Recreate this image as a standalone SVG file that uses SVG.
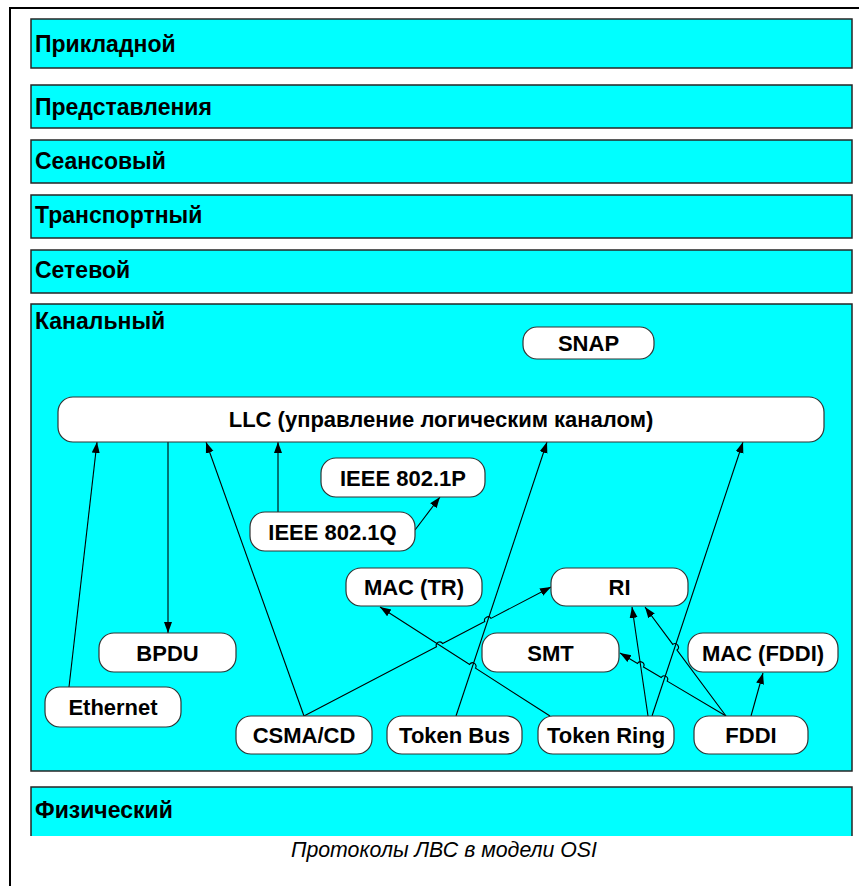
<svg xmlns="http://www.w3.org/2000/svg" width="859" height="886" viewBox="0 0 859 886">
<style>
.layer{fill:#00FFFF;stroke:#262626;stroke-width:1.5}
.lt{font-family:"Liberation Sans",Arial,sans-serif;font-weight:bold;font-size:23px;fill:#000}
.node rect{fill:#fff;stroke:#333;stroke-width:1.2}
.nt{font-family:"Liberation Sans",Arial,sans-serif;font-weight:bold;font-size:22px;fill:#000;text-anchor:middle}
.c{fill:none;stroke:#000;stroke-width:1.1}
.a{marker-end:url(#arr)}
.cap{font-family:"Liberation Sans",Arial,sans-serif;font-style:italic;font-size:21.3px;fill:#000;text-anchor:middle}
</style>
<defs>
<marker id="arr" markerUnits="userSpaceOnUse" markerWidth="12" markerHeight="10" viewBox="0 0 12 10" refX="11" refY="5" orient="auto">
<path d="M0,1 L11,5 L0,9 z" fill="#000"/>
</marker>
</defs>
<rect x="0" y="0" width="859" height="886" fill="#fff"/>
<path d="M10,886 L10,8 L859,8" fill="none" stroke="#000" stroke-width="2"/>

<g id="layer-app"><rect class="layer" x="31" y="19" width="821" height="49"/><text class="lt" x="35" y="51.5">Прикладной</text></g>
<g id="layer-pres"><rect class="layer" x="31" y="85" width="821" height="43"/><text class="lt" x="35" y="115">Представления</text></g>
<g id="layer-sess"><rect class="layer" x="31" y="140" width="821" height="43"/><text class="lt" x="35" y="169">Сеансовый</text></g>
<g id="layer-trans"><rect class="layer" x="31" y="195" width="821" height="43"/><text class="lt" x="35" y="223">Транспортный</text></g>
<g id="layer-net"><rect class="layer" x="31" y="250" width="821" height="43"/><text class="lt" x="35" y="278">Сетевой</text></g>
<g id="layer-link"><rect class="layer" x="31" y="304" width="821" height="467"/><text class="lt" x="35" y="329">Канальный</text></g>
<g id="layer-phys"><rect x="31" y="787" width="821" height="49" fill="#00FFFF"/><path d="M31,836 L31,787 L852,787 L852,836" fill="none" stroke="#262626" stroke-width="1.5"/><text class="lt" x="35" y="818">Физический</text></g>

<g id="connectors">
<path class="c a" d="M69,687 L97,442"/>
<path class="c a" d="M168,442 L168,633"/>
<path class="c a" d="M304,716 L206,442"/>
<path class="c a" d="M278,512 L278,442"/>
<path class="c a" d="M415,530 L440,497"/>
<path class="c a" d="M456,716 L547,442"/>
<path class="c a" d="M652,716 L743,442"/>
<path class="c a" d="M304,716 L436.5,646.8 A3.5,3.5 0 0 1 442.7,643.6 L484.8,621.6 A3.5,3.5 0 0 1 491.0,618.4 L551,587"/>
<path class="c a" d="M550,716 L475.5,668.2 A3.5,3.5 0 0 0 469.6,664.4 L380,607"/>
<path class="c a" d="M648,716 L632,607"/>
<path class="c a" d="M726,716 L677.0,650.0 A3.5,3.5 0 0 0 672.8,644.4 L645,607"/>
<path class="c a" d="M726,716 L667.2,681.1 A3.5,3.5 0 0 0 661.2,677.5 L643.5,667.0 A3.5,3.5 0 0 0 637.5,663.4 L620,653"/>
<path class="c a" d="M751,716 L763,673"/>
</g>

<g id="snap" class="node"><rect x="523" y="327" width="131" height="32" rx="14"/><text class="nt" x="588.5" y="351">SNAP</text></g>
<g id="llc" class="node"><rect x="58" y="397" width="766" height="45" rx="15"/><text class="nt" x="441" y="427">LLC (управление логическим каналом)</text></g>
<g id="ieee8021p" class="node"><rect x="321" y="458" width="164" height="39" rx="15"/><text class="nt" x="403" y="485.5">IEEE 802.1P</text></g>
<g id="ieee8021q" class="node"><rect x="250" y="512" width="165" height="39" rx="15"/><text class="nt" x="332.5" y="539.5">IEEE 802.1Q</text></g>
<g id="mactr" class="node"><rect x="346" y="568" width="136" height="38" rx="15"/><text class="nt" x="414" y="595">MAC (TR)</text></g>
<g id="ri" class="node"><rect x="551" y="568" width="137" height="38" rx="15"/><text class="nt" x="619.5" y="595">RI</text></g>
<g id="smt" class="node"><rect x="482" y="633" width="137" height="39" rx="15"/><text class="nt" x="550.5" y="660.5">SMT</text></g>
<g id="macfddi" class="node"><rect x="688" y="633" width="150" height="39" rx="15"/><text class="nt" x="763" y="660.5">MAC (FDDI)</text></g>
<g id="bpdu" class="node"><rect x="99" y="633" width="137" height="39" rx="15"/><text class="nt" x="167.5" y="660.5">BPDU</text></g>
<g id="ethernet" class="node"><rect x="45" y="687" width="136" height="40" rx="15"/><text class="nt" x="113" y="715">Ethernet</text></g>
<g id="csmacd" class="node"><rect x="236" y="716" width="136" height="38" rx="15"/><text class="nt" x="304" y="743">CSMA/CD</text></g>
<g id="tokenbus" class="node"><rect x="387" y="716" width="135" height="38" rx="15"/><text class="nt" x="454.5" y="743">Token Bus</text></g>
<g id="tokenring" class="node"><rect x="538" y="716" width="136" height="38" rx="15"/><text class="nt" x="606" y="743">Token Ring</text></g>
<g id="fddi" class="node"><rect x="694" y="716" width="114" height="38" rx="15"/><text class="nt" x="751" y="743">FDDI</text></g>

<text class="cap" x="444" y="857">Протоколы ЛВС в модели OSI</text>
</svg>
